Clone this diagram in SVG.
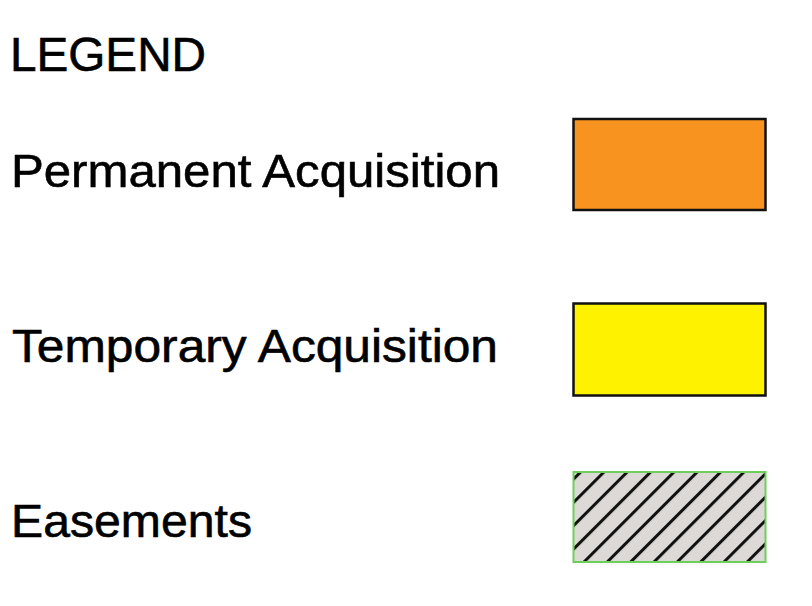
<svg xmlns="http://www.w3.org/2000/svg" width="812" height="606" viewBox="0 0 812 606">
  <style>
    .lbl { font-family: "Liberation Sans", Arial, Helvetica, sans-serif; fill: #000; stroke: #000; stroke-width: 0.6; }
    .box { stroke: #111; stroke-width: 2.5; }
  </style>
  <defs>
    <pattern id="hatch" patternUnits="userSpaceOnUse" width="16.5" height="10" patternTransform="translate(578.5,472) rotate(45)">
      <rect x="0" y="0" width="16.5" height="10" fill="#dcd9d6"/>
      <rect x="0" y="0" width="3" height="10" fill="#111"/>
    </pattern>
  </defs>
  <rect width="812" height="606" fill="#fff"/>

  <g id="title">
    <text class="lbl" x="10" y="71" font-size="48" textLength="196" lengthAdjust="spacingAndGlyphs">LEGEND</text>
  </g>

  <g id="permanent">
    <text class="lbl" x="11" y="187" font-size="47" textLength="489" lengthAdjust="spacingAndGlyphs">Permanent Acquisition</text>
    <rect class="box" x="573.5" y="119" width="192" height="91" fill="#f7931e"/>
  </g>

  <g id="temporary">
    <text class="lbl" x="12" y="362" font-size="46" textLength="486" lengthAdjust="spacingAndGlyphs">Temporary Acquisition</text>
    <rect class="box" x="573.5" y="303.5" width="192" height="92" fill="#fff200"/>
  </g>

  <g id="easements">
    <text class="lbl" x="11" y="537" font-size="46" textLength="241" lengthAdjust="spacingAndGlyphs">Easements</text>
    <rect x="573.5" y="472" width="192" height="90" fill="url(#hatch)" stroke="#6ccf5a" stroke-width="2"/>
  </g>
</svg>
